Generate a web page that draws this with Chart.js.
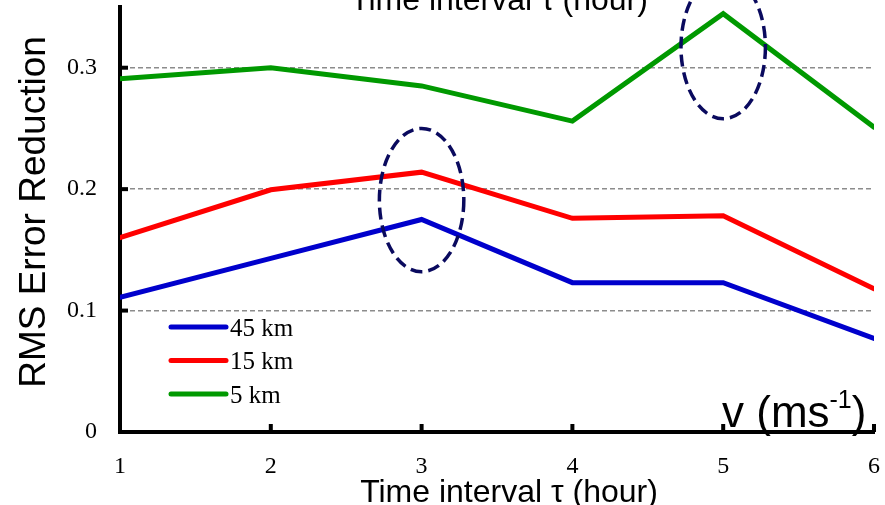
<!DOCTYPE html>
<html>
<head>
<meta charset="utf-8">
<script src="https://cdn.jsdelivr.net/npm/chart.js@4.4.1/dist/chart.umd.min.js"></script>
<style>
  html, body { margin: 0; padding: 0; background: #fff; }
  #wrap { width: 885px; height: 505px; position: relative; }
</style>
</head>
<body>
<div id="wrap"><canvas id="c" width="885" height="505"></canvas></div>
<script>
// ---- data ----
const timeIntervals = [1, 2, 3, 4, 5, 6];
const seriesLabels = ['45 km', '15 km', '5 km'];
const rms45km = [0.111, 0.143, 0.175, 0.123, 0.123, 0.077];
const rms15km = [0.160, 0.1995, 0.214, 0.176, 0.178, 0.118];
const rms5km  = [0.291, 0.300, 0.285, 0.256, 0.3445, 0.251];
const yTickValues = [0, 0.1, 0.2, 0.3];
const xTickValues = [1, 2, 3, 4, 5, 6];
// highlighted regions (data units): centre x, centre y, half-width, half-height
const highlightX  = [3.0, 5.0];
const highlightY  = [0.191, 0.317];
const highlightRx = [0.28, 0.28];
const highlightRy = [0.059, 0.059];

const axisTitle = 'Time interval \u03C4 (hour)';
const yTitle = 'RMS Error Reduction';

const colors = ['#0000cc', '#ff0000', '#009900'];
const seriesValues = [rms45km, rms15km, rms5km];

const datasets = seriesValues.map((vals, i) => ({
  label: seriesLabels[i],
  data: timeIntervals.map((t, j) => ({ x: t, y: vals[j] })),
  borderColor: colors[i],
  backgroundColor: colors[i],
  borderWidth: 5,
  pointRadius: 0,
  tension: 0,
  borderCapStyle: 'round',
  fill: false
}));

function noPad(s) {
  s.paddingTop = 0; s.paddingBottom = 0; s.paddingLeft = 0; s.paddingRight = 0;
}

const overlay = {
  id: 'overlay',
  afterDatasetsDraw(chart) {
    const ctx = chart.ctx;
    const xs = chart.scales.x, ys = chart.scales.y;
    ctx.save();
    // inner tick marks
    ctx.fillStyle = '#000';
    yTickValues.forEach(v => {
      if (v === 0) return;
      const py = ys.getPixelForValue(v);
      ctx.fillRect(xs.left, py - 2, 8, 4);
    });
    xTickValues.forEach(v => {
      if (v === xTickValues[0]) return;
      const px = xs.getPixelForValue(v);
      ctx.fillRect(px - 2, ys.bottom - 8, 4, 8);
    });
    // dashed ellipses
    ctx.strokeStyle = '#0a0a5e';
    ctx.lineWidth = 3.5;
    ctx.setLineDash([12, 6]);
    highlightX.forEach((hx, i) => {
      const cx = xs.getPixelForValue(hx);
      const cy = ys.getPixelForValue(highlightY[i]);
      const rx = Math.abs(xs.getPixelForValue(hx + highlightRx[i]) - cx);
      const ry = Math.abs(ys.getPixelForValue(highlightY[i] + highlightRy[i]) - cy);
      ctx.beginPath();
      ctx.ellipse(cx, cy, rx, ry, 0, 0, Math.PI * 2);
      ctx.stroke();
    });
    ctx.setLineDash([]);
    // legend
    const legX = 171, legW = 55, legY0 = 327, legDy = 33.5;
    chart.data.datasets.forEach((ds, i) => {
      const y = legY0 + i * legDy;
      ctx.strokeStyle = ds.borderColor;
      ctx.lineWidth = 5;
      ctx.lineCap = 'round';
      ctx.beginPath();
      ctx.moveTo(legX, y);
      ctx.lineTo(legX + legW, y);
      ctx.stroke();
      ctx.fillStyle = '#000';
      ctx.font = '25px "Liberation Serif"';
      ctx.textAlign = 'left';
      ctx.textBaseline = 'alphabetic';
      ctx.fillText(ds.label, legX + legW + 4, y + 8.5);
    });
    // titles
    ctx.fillStyle = '#000';
    ctx.font = '32px "Liberation Sans"';
    ctx.textAlign = 'center';
    ctx.textBaseline = 'alphabetic';
    ctx.fillText(axisTitle, 509, 502);
    ctx.fillText(axisTitle, 499, 10);
    ctx.save();
    ctx.translate(45, 212);
    ctx.rotate(-Math.PI / 2);
    ctx.font = '37px "Liberation Sans"';
    ctx.fillText(yTitle, 0, 0);
    ctx.restore();
    // v (ms-1)
    ctx.textAlign = 'left';
    let x = 722;
    ctx.font = '44px "Liberation Sans"';
    ctx.fillText('v (ms', x, 427);
    x += ctx.measureText('v (ms').width;
    ctx.font = '25px "Liberation Sans"';
    ctx.fillText('-1', x, 408);
    x += ctx.measureText('-1').width;
    ctx.font = '44px "Liberation Sans"';
    ctx.fillText(')', x, 427);
    ctx.restore();
  }
};

new Chart(document.getElementById('c'), {
  type: 'line',
  data: { datasets },
  options: {
    responsive: false,
    animation: false,
    devicePixelRatio: 1,
    layout: { padding: { top: 7, right: 11, bottom: 0, left: 0 } },
    plugins: { legend: { display: false }, tooltip: { enabled: false } },
    scales: {
      x: {
        type: 'linear',
        min: 1, max: 6,
        afterFit(s) { s.height = 73; noPad(s); },
        afterBuildTicks(s) { s.ticks = xTickValues.map(v => ({ value: v })); },
        grid: { display: false, drawTicks: false },
        border: { display: true, color: '#000', width: 4 },
        ticks: {
          color: '#000',
          font: { family: 'Liberation Serif', size: 24 },
          padding: 20,
          maxRotation: 0,
          autoSkip: false,
          callback: v => String(v)
        }
      },
      y: {
        min: 0, max: 0.35,
        afterFit(s) { s.width = 120; noPad(s); },
        afterBuildTicks(s) { s.ticks = yTickValues.map(v => ({ value: v })); },
        grid: { display: true, drawOnChartArea: true, drawTicks: false, color: '#8c8c8c', lineWidth: 1.4 },
        border: { display: true, color: '#000', width: 4, dash: [5, 3] },
        ticks: {
          color: '#000',
          font: { family: 'Liberation Serif', size: 24 },
          padding: 23,
          callback: v => (v === 0 ? '0' : v.toFixed(1))
        }
      }
    }
  },
  plugins: [overlay]
});
</script>
</body>
</html>
